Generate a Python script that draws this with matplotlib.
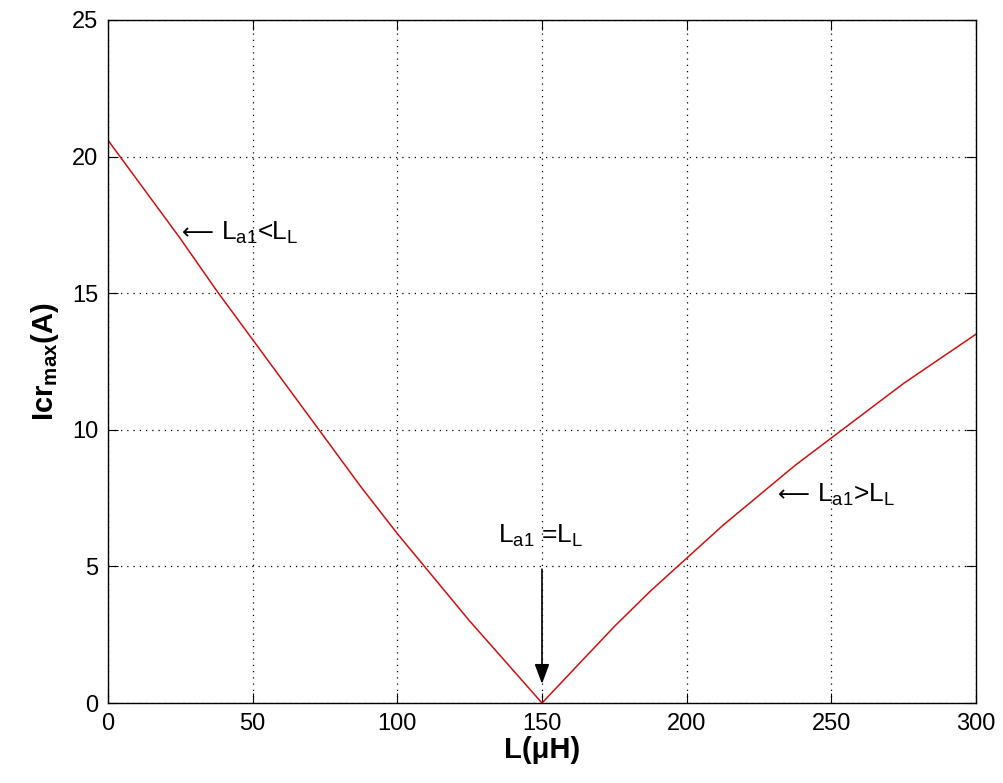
import numpy as np
import matplotlib.pyplot as plt

plt.rcParams['font.family'] = ['Liberation Sans', 'DejaVu Sans']
plt.rcParams['mathtext.fontset'] = 'custom'
plt.rcParams['mathtext.rm'] = 'Liberation Sans'
plt.rcParams['mathtext.it'] = 'Liberation Sans'
plt.rcParams['mathtext.bf'] = 'Liberation Sans:bold'

# inductance sweep (uH) and peak resonant current (A)
L_uH = [0, 12.5, 25, 37.5, 50, 62.5, 75, 87.5, 100, 112.5, 125, 137.5, 150,
        162.5, 175, 187.5, 200, 212.5, 225, 237.5, 250, 262.5, 275, 287.5, 300]
icr_max = [20.6, 18.8, 17.0, 15.1, 13.3, 11.5, 9.7, 7.9, 6.2, 4.6, 3.0, 1.5, 0.0,
           1.4, 2.8, 4.1, 5.3, 6.5, 7.6, 8.7, 9.7, 10.7, 11.7, 12.6, 13.5]

xticks = [0, 50, 100, 150, 200, 250, 300]
yticks = [0, 5, 10, 15, 20, 25]

fig = plt.figure(figsize=(10.04, 7.83), dpi=100)
ax = fig.add_axes([108 / 1004, 80 / 783, 868 / 1004, 683 / 783])

ax.plot(L_uH, icr_max, color='#d01010', lw=1.1)

ax.set_xlim(0, 300)
ax.set_ylim(0, 25)
ax.set_xticks(xticks)
ax.set_yticks(yticks)
ax.grid(True, color='black', linestyle=(0, (1, 4)), lw=0.9)
ax.tick_params(direction='in', length=7, top=True, right=True, labelsize=17, pad=7)
for s in ax.spines.values():
    s.set_linewidth(1.0)

ax.set_xlabel(r'L(μH)', fontsize=21, fontweight='bold', labelpad=1)
ax.set_ylabel(r'Icr$_{\mathbf{max}}$(A)', fontsize=21, fontweight='bold', labelpad=8)


def region_label(x, y, label):
    # long thin arrow followed by the label text
    ax.text(x, y, '⟵', fontsize=16, family='DejaVu Sans', ha='left', va='center')
    ax.annotate(label, xy=(x, y), xytext=(28, 0), textcoords='offset points',
                fontsize=19, ha='left', va='center')


region_label(25.6, 17.2, r'L$_{a1}$<L$_L$')
region_label(231.6, 7.6, r'L$_{a1}$>L$_L$')

# resonance point marker
ax.annotate('', xy=(150, 0.6), xytext=(150, 5.0),
            arrowprops=dict(arrowstyle='-|>,head_length=1.2,head_width=0.45',
                            color='black', lw=1.2))
ax.text(149.7, 6.1, r'L$_{a1}$ =L$_L$', fontsize=19, ha='center', va='center')

fig.savefig('out.png', dpi=100)
